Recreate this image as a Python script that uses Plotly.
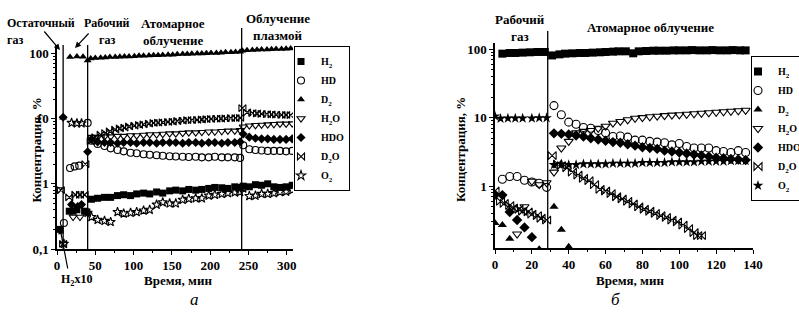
import plotly.graph_objects as go

# ---------------- Chart (а) data ----------------
a_H2_t = [4, 16, 21, 26, 36, 39,
          45, 53, 62, 70, 79, 87, 96, 104, 113, 121, 130, 138, 147, 155, 164, 172, 181, 189, 198, 206, 215, 223, 232, 239,
          243, 251, 259, 267, 275, 283, 291, 299, 307]
a_H2 = [0.2, 0.38, 0.38, 0.4, 0.38, 0.37,
        0.58, 0.6, 0.62, 0.62, 0.66, 0.68, 0.66, 0.7, 0.72, 0.7, 0.75, 0.72, 0.78, 0.8, 0.78, 0.82, 0.8, 0.82, 0.85, 0.88, 0.87, 0.85, 0.9, 0.88,
        0.92, 0.9, 0.97, 0.95, 1.0, 0.9, 0.88, 0.9, 0.95]

a_HD_t = [9, 17, 23, 29, 40,
          45, 53, 62, 70, 79, 87, 96, 104, 113, 121, 130, 138, 147, 155, 164, 172, 181, 189, 198, 206, 215, 223, 232, 239,
          243, 251, 259, 267, 275, 283, 291, 299, 307]
a_HD = [0.25, 1.75, 1.85, 1.9, 8.6,
        4.6, 4.1, 3.8, 3.5, 3.3, 3.15, 3.0, 2.95, 2.85, 2.8, 2.75, 2.7, 2.65, 2.62, 2.6, 2.58, 2.6, 2.55, 2.55, 2.6, 2.55, 2.55, 2.55, 2.5,
        3.9, 3.4, 3.3, 3.25, 3.2, 3.2, 3.2, 3.15, 3.2]

a_D2_t = [8, 17, 26, 34, 40,
          44, 50, 57, 63, 69, 76, 82, 88, 94, 101, 107, 113, 120, 126, 132, 138, 145, 151, 157, 164, 170, 176, 183, 189, 195, 201,
          208, 214, 220, 227, 233, 239,
          242, 248, 255, 261, 267, 274, 280, 286, 293, 299, 305]
a_D2 = [10.3, 88, 90, 89, 78,
        84, 85, 86, 87, 88, 88, 89, 90, 90, 91, 92, 92, 93, 94, 94, 95, 96, 96, 97, 98, 98, 99, 100, 100, 101, 102,
        102, 103, 104, 104, 105, 106,
        110, 112, 113, 114, 115, 115, 116, 117, 117, 118, 119]

a_H2O_t = [2, 21, 30,
           45, 53, 62, 70, 79, 87, 96, 104, 113, 121, 130, 138, 147, 155, 164, 172, 181, 189, 198, 206, 215, 223, 232, 239,
           243, 251, 259, 267, 275, 283, 291, 299, 307]
a_H2O = [0.82, 0.31, 0.31,
         5.2, 5.2, 5.3, 5.3, 5.4, 5.4, 5.5, 5.5, 5.6, 5.7, 5.7, 5.8, 5.9, 5.9, 6.0, 6.1, 6.1, 6.2, 6.3, 6.3, 6.4, 6.5, 6.5, 6.6,
         7.5, 7.8, 7.9, 8.0, 8.1, 8.2, 8.3, 8.3, 8.4]

a_HDO_t = [8, 19, 27, 32, 40,
           45, 53, 62, 70, 79, 87, 96, 104, 113, 121, 130, 138, 147, 155, 164, 172, 181, 189, 198, 206, 215, 223, 232, 239,
           243, 251, 259, 267, 275, 283, 291, 299, 307]
a_HDO = [10.5, 0.48, 0.45, 0.48, 3.1,
         4.8, 4.4, 4.3, 4.3, 4.2, 4.3, 4.3, 4.2, 4.3, 4.3, 4.2, 4.3, 4.3, 4.3, 4.2, 4.3, 4.3, 4.2, 4.3, 4.3, 4.2, 4.3, 4.3, 4.4,
         5.8, 5.2, 5.0, 4.9, 4.9, 4.8, 4.8, 4.8, 4.9]

a_D2O_t = [5, 8, 16, 24, 30, 36, 37,
           44, 50, 57, 63, 69, 76, 82, 88, 94, 101, 107, 113, 120, 126, 132, 138, 145, 151, 157, 164, 170, 176, 183, 189, 195, 201,
           208, 214, 220, 227, 233, 239,
           242, 248, 255, 261, 267, 274, 280, 286, 293, 299, 305]
a_D2O = [0.8, 0.12, 0.62, 0.68, 0.68, 0.68, 2.0,
         4.5, 5.2, 5.7, 6.0, 6.4, 6.8, 7.1, 7.3, 7.6, 7.8, 8.0, 8.2, 8.4, 8.6, 8.7, 8.8, 8.9, 9.0, 9.2, 9.3, 9.5, 9.5, 9.6, 9.7, 9.8, 9.9,
         10.0, 10.0, 10.1, 10.2, 10.2, 10.3,
         14.5, 12.5, 12.2, 12.0, 11.8, 11.7, 11.6, 11.5, 11.4, 11.4, 11.3]

a_O2_t = [9, 19, 26, 32, 40,
          45, 53, 62, 70, 79, 87, 96, 104, 113, 121, 130, 138, 147, 155, 164, 172, 181, 189, 198, 206, 215, 223, 232, 239,
          243, 251, 259, 267, 275, 283, 291, 299, 307]
a_O2 = [0.12, 8.6, 8.5, 8.5, 0.36,
        0.31, 0.28, 0.27, 0.26, 0.37, 0.35, 0.36, 0.37, 0.39, 0.40, 0.48, 0.52, 0.50, 0.50, 0.57, 0.59, 0.6, 0.6, 0.66, 0.68, 0.7, 0.72, 0.74, 0.75,
        0.85, 0.65, 0.66, 0.7, 0.7, 0.72, 0.75, 0.76, 0.8]

a_stage_times = [8, 40, 241]

# ---------------- Chart (б) data ----------------
b_H2_t = [4, 8, 11, 15, 19, 23, 27,
          31, 35, 38, 42, 46, 49, 53, 57, 60, 64, 67, 71, 75, 78, 82, 86, 89, 93, 97, 100, 104, 107, 111, 115, 118, 122, 126, 129, 133, 136]
b_H2 = [86, 88, 88, 89, 90, 91, 91,
        81, 84, 86, 87, 88, 88, 89, 90, 91, 92, 93, 93, 87, 93, 94, 95, 95, 95, 96, 96, 96, 97, 96, 96, 97, 96, 96, 97, 96, 96]

b_HD_t = [4, 8, 12, 16, 20, 24, 28,
          32, 36, 40, 44, 48, 52, 56, 60, 64, 68, 72, 76, 80, 84, 88, 92, 96, 100, 104, 108, 112, 116, 120, 124, 128, 132, 136]
b_HD = [1.26, 1.38, 1.38, 1.22, 1.15, 1.1, 0.96,
        15, 11, 8.6, 8.0, 7.2, 7.0, 6.5, 6.0, 5.3, 5.4, 5.2, 4.7, 4.7, 4.5, 4.4, 4.3, 4.0, 4.2, 3.8, 3.6, 3.6, 3.6, 3.3, 3.2, 3.1, 3.3, 3.1]

b_D2_t = [0, 4, 8, 24, 32, 36, 40]
b_D2 = [0.29, 0.27, 0.17, 0.12, 0.5, 0.23, 0.13]

b_H2O_t = [12, 16, 20, 24, 28,
           32, 36, 40, 44, 48, 52, 56, 60, 64, 68, 72, 76, 80, 84, 88, 92, 96, 100, 104, 108, 112, 116, 120, 124, 128, 132, 136]
b_H2O = [0.2, 0.5, 1.18, 1.05, 1.12,
         1.6, 3.6, 4.5, 6.0, 6.3, 6.5, 7.0, 7.5, 8.3, 8.8, 9.3, 9.8, 10.0, 10.3, 10.5, 10.7, 10.9, 11.0, 11.2, 11.4, 11.6, 11.8,
         12.0, 12.2, 12.4, 12.6, 12.8]

b_HDO_t = [0, 4, 8, 12, 16, 20,
           32, 36, 40, 44, 48, 52, 56, 60, 64, 68, 72, 76, 80, 84, 88, 92, 96, 100, 104, 108, 112, 116, 120, 124, 128, 132, 136]
b_HDO = [0.75, 0.74, 0.42, 0.32, 0.25, 0.18,
         5.9, 5.8, 5.7, 5.5, 5.3, 5.0, 4.8, 4.6, 4.4, 4.3, 4.1, 3.9, 3.7, 3.6, 3.5, 3.3, 3.2, 3.1, 3.0, 2.9, 2.8, 2.7, 2.6,
         2.55, 2.5, 2.45, 2.4]

b_D2O_t = [0, 3, 5, 8, 10, 13, 15, 18, 20, 23, 25, 28,
           31, 34, 36, 39, 42, 45, 48, 51, 54, 57, 60, 63, 66, 69, 72, 75, 78, 81, 84, 87, 90, 93, 96, 99, 102, 105, 108, 110, 112]
b_D2O = [0.85, 0.6, 0.56, 0.52, 0.48, 0.46, 0.43, 0.42, 0.39, 0.37, 0.34, 0.32,
         2.8, 2.1, 2.0, 1.85, 1.6, 1.45, 1.3, 1.2, 1.05, 0.9, 0.85, 0.78, 0.7, 0.65, 0.6, 0.55, 0.5, 0.46, 0.43, 0.4,
         0.37, 0.35, 0.32, 0.3, 0.27, 0.24, 0.21, 0.19, 0.19]

b_O2_t = [0, 3, 7, 11, 15, 20, 24, 28,
          32, 36, 40, 44, 48, 52, 56, 60, 64, 68, 72, 76, 80, 84, 88, 92, 96, 100, 104, 108, 112, 116, 120, 124, 128, 132, 136]
b_O2 = [10.5, 9.7, 9.8, 9.8, 9.8, 9.8, 9.9, 9.9,
        2.05, 2.1, 2.05, 2.05, 2.1, 2.1, 2.1, 2.1, 2.15, 2.15, 2.15, 2.15, 2.2, 2.2, 2.2, 2.2, 2.25, 2.25, 2.25, 2.25, 2.3,
        2.3, 2.3, 2.3, 2.35, 2.35, 2.35]

b_stage_times = [28.6]

series_names = ["H<sub>2</sub>", "HD", "D<sub>2</sub>", "H<sub>2</sub>O", "HDO", "D<sub>2</sub>O", "O<sub>2</sub>"]
a_ticks_y = [0.1, 1, 10, 100]
a_ticklabels_y = ["0,1", "1", "10", "100"]

# ---------------- figure ----------------
W, H = 799, 321
FONT = "Liberation Serif"


def px_x(p):
    return p / W


def px_y(p):
    return 1 - p / H


symbols_a = ["square", "circle-open", "triangle-up", "triangle-down-open", "diamond", "bowtie-open", "star-open"]
symbols_b = ["square", "circle-open", "triangle-up", "triangle-down-open", "diamond", "bowtie-open", "star"]

a_data = [(a_H2_t, a_H2), (a_HD_t, a_HD), (a_D2_t, a_D2), (a_H2O_t, a_H2O),
          (a_HDO_t, a_HDO), (a_D2O_t, a_D2O), (a_O2_t, a_O2)]
b_data = [(b_H2_t, b_H2), (b_HD_t, b_HD), (b_D2_t, b_D2), (b_H2O_t, b_H2O),
          (b_HDO_t, b_HDO), (b_D2O_t, b_D2O), (b_O2_t, b_O2)]

fig = go.Figure()


def marker(sym, size):
    open_ = sym.endswith("-open")
    return dict(symbol=sym, size=size, color="black",
                line=dict(color="black", width=1.1 if open_ else 0))


for (t, v), name, sym in zip(a_data, series_names, symbols_a):
    fig.add_trace(go.Scatter(x=t, y=v, mode="markers", name=name, marker=marker(sym, 7),
                             xaxis="x", yaxis="y", legend="legend"))
for (t, v), name, sym in zip(b_data, series_names, symbols_b):
    fig.add_trace(go.Scatter(x=t, y=v, mode="markers", name=name, marker=marker(sym, 8),
                             xaxis="x2", yaxis="y2", legend="legend2"))

tickfont = dict(family=FONT, size=13, color="black", weight="bold")
minor_log = [k * 10 ** e for e in (-1, 0, 1, 2) for k in range(2, 10)]

axis_common = dict(showline=True, linecolor="black", linewidth=1.5, ticks="outside", ticklen=4,
                   tickcolor="black", tickwidth=1, showgrid=False, zeroline=False, tickfont=tickfont, mirror=False)

legend_common = dict(xanchor="left", yanchor="top", bordercolor="black", borderwidth=1,
                     bgcolor="white", font=dict(family=FONT, size=10, color="black", weight="bold"),
                     tracegroupgap=0, itemwidth=30, indentation=-14)

fig.update_layout(
    width=W, height=H, margin=dict(l=0, r=0, t=0, b=0, autoexpand=False),
    paper_bgcolor="white", plot_bgcolor="white",
    font=dict(family=FONT, color="black"),
    xaxis=dict(domain=[px_x(57), px_x(293)], range=[0, 308], tickvals=[0, 50, 100, 150, 200, 250, 300],
               minor=dict(ticks="outside", ticklen=2, dtick=25, tickcolor="black"), anchor="y", **axis_common),
    yaxis=dict(domain=[px_y(249), px_y(45)], type="log", range=[-1, 2.13], tickvals=a_ticks_y,
               ticktext=a_ticklabels_y, minor=dict(ticks="outside", ticklen=2, tickvals=minor_log, tickcolor="black"),
               anchor="x", **axis_common),
    xaxis2=dict(domain=[px_x(495), px_x(753)], range=[0, 140], tickvals=[0, 20, 40, 60, 80, 100, 120, 140],
                minor=dict(ticks="outside", ticklen=2, dtick=10, tickcolor="black"), anchor="y2", **axis_common),
    yaxis2=dict(domain=[px_y(248), px_y(43)], type="log", range=[-0.903, 2.09], tickvals=a_ticks_y,
                ticktext=a_ticklabels_y, minor=dict(ticks="outside", ticklen=2, tickvals=minor_log, tickcolor="black"),
                anchor="x2", **axis_common),
    legend=dict(x=px_x(294), y=px_y(46), **legend_common),
    legend2=dict(x=px_x(751), y=px_y(56), **legend_common),
    showlegend=True,
)

# stage boundaries
tops_a = [45, 45, 28]
for t, top in zip(a_stage_times, tops_a):
    fig.add_shape(type="line", xref="x", yref="paper", x0=t, x1=t, y0=px_y(249), y1=px_y(top),
                  line=dict(color="black", width=1.3))
for t in b_stage_times:
    fig.add_shape(type="line", xref="x2", yref="paper", x0=t, x1=t, y0=px_y(248), y1=px_y(31),
                  line=dict(color="black", width=1.3))

txt = dict(family=FONT, size=13, color="black", weight="bold")


def label(text, x, y, xanchor="center", size=13):
    fig.add_annotation(text=text, x=px_x(x), y=px_y(y), xref="paper", yref="paper", showarrow=False,
                       xanchor=xanchor, yanchor="middle",
                       font=dict(family=FONT, size=size, color="black", weight="bold"))


# chart а labels
label("Остаточный", 5, 23, xanchor="left", size=12)
label("газ", 5, 40, xanchor="left", size=12)
label("Рабочий", 107, 23, size=12)
label("газ", 107, 40, size=12)
label("Атомарное", 173, 23)
label("облучение", 173, 40)
label("Облучение", 278, 18)
label("плазмой", 278, 35)
label("H<sub>2</sub>x10", 77, 280, size=12)
label("Время, мин", 178, 280)
fig.add_annotation(text="Концентрация, %", x=px_x(26), y=px_y(150), xref="paper", yref="paper",
                   showarrow=False, textangle=-90, font=txt)

# arrows (tip in paper coords, tail offset in pixels)
for tip, off in [((60, 50), (-17, -20)), ((75, 48), (15, -16)), ((60, 228), (8, 42))]:
    fig.add_annotation(text="", x=px_x(tip[0]), y=px_y(tip[1]), xref="paper", yref="paper",
                       ax=off[0], ay=off[1], showarrow=True, arrowhead=2, arrowsize=1, arrowwidth=1.2,
                       arrowcolor="black")

# chart б labels
label("Рабочий", 520, 19)
label("газ", 520, 36)
label("Атомарное облучение", 650, 27)
label("Время, мин", 630, 280)
fig.add_annotation(text="Концентрация, %", x=px_x(460), y=px_y(150), xref="paper", yref="paper",
                   showarrow=False, textangle=-90, font=txt)

# captions
fig.add_annotation(text="а", x=px_x(188), y=px_y(311), xref="paper", yref="paper", showarrow=False,
                   font=dict(family=FONT, size=17, color="black", style="italic"))
fig.add_annotation(text="б", x=px_x(622), y=px_y(311), xref="paper", yref="paper", showarrow=False,
                   font=dict(family=FONT, size=17, color="black", style="italic"))

fig.write_html("out.html", config={"displayModeBar": False},
               post_script="document.body.style.margin='0';document.body.style.overflow='hidden';")
